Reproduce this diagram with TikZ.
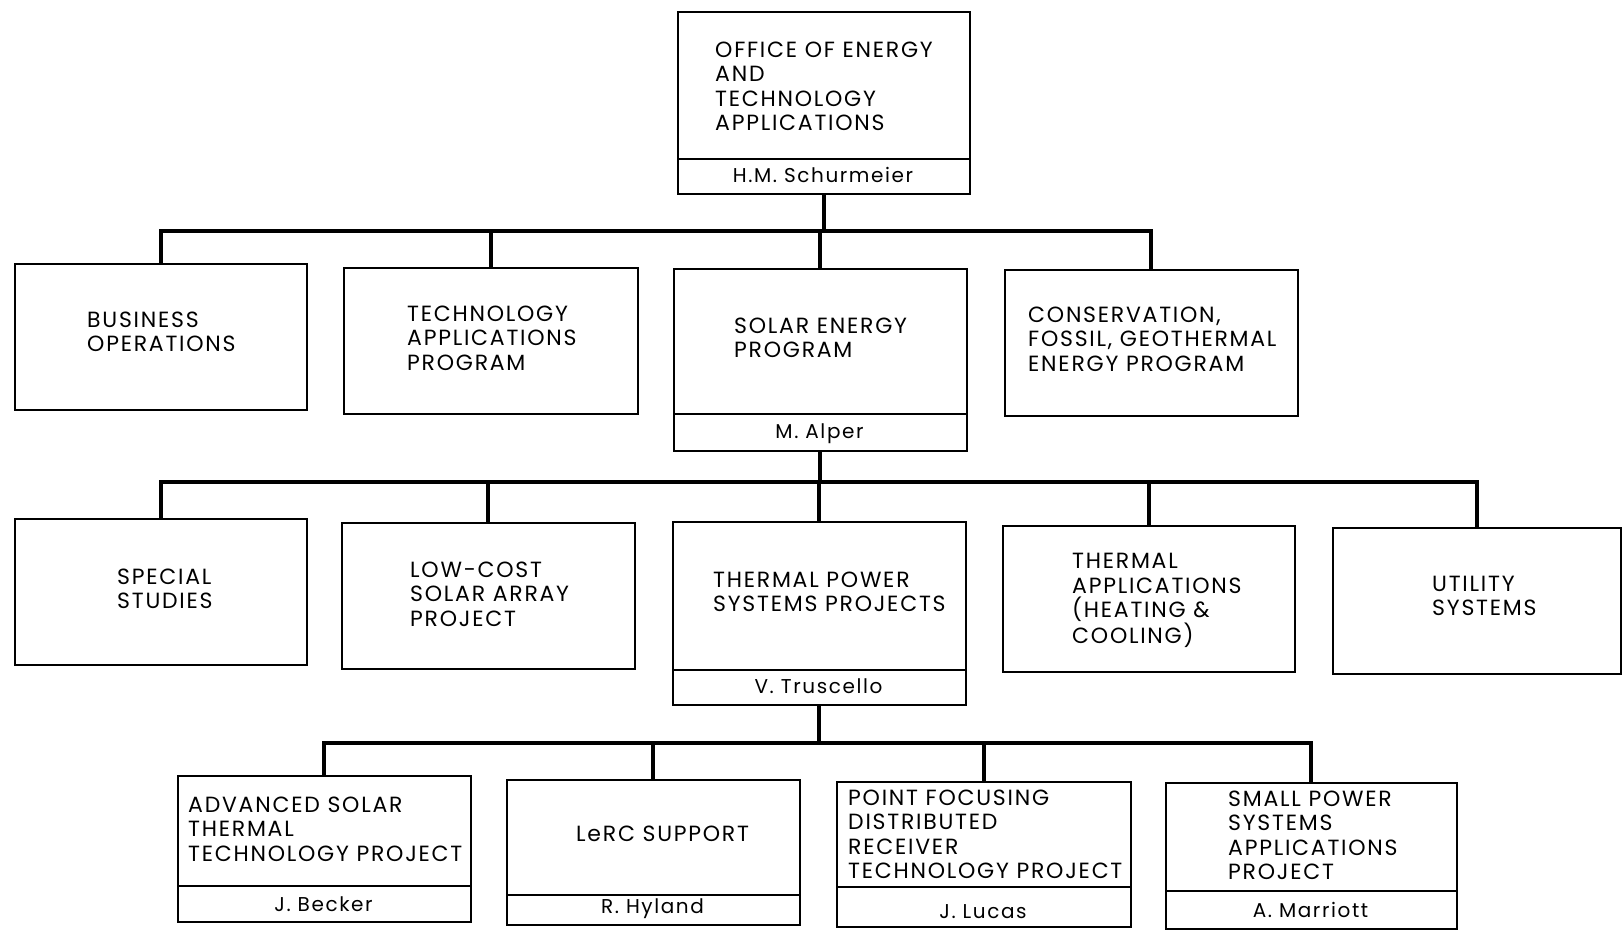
\documentclass[tikz,border=0pt]{standalone}
\usepackage{fontspec}
\setmainfont{Poppins}[LetterSpace=8]
\begin{document}
\begin{tikzpicture}[x=1pt,y=-1pt,
  box/.style={draw, line width=1.8pt, anchor=north west, inner sep=0pt},
  lbl/.style={anchor=base west, align=left, inner sep=0pt, font=\fontsize{22}{24.5}\selectfont},
  mgr/.style={anchor=base, inner sep=0pt, font=\fontsize{20}{22}\selectfont},
  conn/.style={line width=4pt}]
\useasboundingbox (0,0) rectangle (1622,932);
% ---------- level 0
\node[box, minimum width=292pt, minimum height=147pt] (office) at (677,11) {};
\node[box, minimum width=292pt, minimum height=35pt] (officem) at (677,158) {};
\node[lbl] (officet) at (715,130.5) {OFFICE OF ENERGY\\AND\\TECHNOLOGY\\APPLICATIONS};
\node[mgr] (officen) at (823,182) {H.M. Schurmeier};
% ---------- level 1
\node[box, minimum width=292pt, minimum height=146pt] (bus) at (14,263) {};
\node[lbl] (bust) at (87,351.5) {BUSINESS\\OPERATIONS};
\node[box, minimum width=294pt, minimum height=146pt] (tap) at (343,267) {};
\node[lbl] (tapt) at (407,370) {TECHNOLOGY\\APPLICATIONS\\PROGRAM};
\node[box, minimum width=293pt, minimum height=145pt] (sol) at (673,268) {};
\node[box, minimum width=293pt, minimum height=37pt] (solm) at (673,413) {};
\node[lbl] (solt) at (734,357.5) {SOLAR ENERGY\\PROGRAM};
\node[mgr] (soln) at (819.5,438) {M. Alper};
\node[box, minimum width=293pt, minimum height=146pt] (cons) at (1004,269) {};
\node[lbl] (const) at (1028,371) {CONSERVATION,\\FOSSIL, GEOTHERMAL\\ENERGY PROGRAM};
% ---------- level 2
\node[box, minimum width=292pt, minimum height=146pt] (spec) at (14,518) {};
\node[lbl] (spect) at (117,608.5) {SPECIAL\\STUDIES};
\node[box, minimum width=293pt, minimum height=146pt] (lcsa) at (341,522) {};
\node[lbl] (lcsat) at (410,626) {LOW-COST\\SOLAR ARRAY\\PROJECT};
\node[box, minimum width=293pt, minimum height=148pt] (tps) at (672,521) {};
\node[box, minimum width=293pt, minimum height=35pt] (tpsm) at (672,669) {};
\node[lbl] (tpst) at (713,611.5) {THERMAL POWER\\SYSTEMS PROJECTS};
\node[mgr] (tpsn) at (818.5,693) {V. Truscello};
\node[box, minimum width=292pt, minimum height=146pt] (tha) at (1002,525) {};
\node[lbl] (that) at (1072,643.5) {THERMAL\\APPLICATIONS\\(HEATING \&\\COOLING)};
\node[box, minimum width=288pt, minimum height=146pt] (util) at (1332,527) {};
\node[lbl] (utilt) at (1432,615.5) {UTILITY\\SYSTEMS};
% ---------- level 3
\node[box, minimum width=293pt, minimum height=110pt] (adv) at (177,775) {};
\node[box, minimum width=293pt, minimum height=36pt] (advm) at (177,885) {};
\node[lbl] (advt) at (188,861) {ADVANCED SOLAR\\THERMAL\\TECHNOLOGY PROJECT};
\node[mgr] (advn) at (323.5,911) {J. Becker};
\node[box, minimum width=293pt, minimum height=115pt] (lerc) at (506,779) {};
\node[box, minimum width=293pt, minimum height=30pt] (lercm) at (506,894) {};
\node[lbl] (lerct) at (576,841) {LeRC SUPPORT};
\node[mgr] (lercn) at (652.5,913) {R. Hyland};
\node[box, minimum width=294pt, minimum height=105pt] (pfd) at (836,781) {};
\node[box, minimum width=294pt, minimum height=40pt] (pfdm) at (836,886) {};
\node[lbl] (pfdt) at (848,878.5) {POINT FOCUSING\\DISTRIBUTED\\RECEIVER\\TECHNOLOGY PROJECT};
\node[mgr] (pfdn) at (983,918) {J. Lucas};
\node[box, minimum width=291pt, minimum height=108pt] (sps) at (1165,782) {};
\node[box, minimum width=291pt, minimum height=38pt] (spsm) at (1165,890) {};
\node[lbl] (spst) at (1228,879.5) {SMALL POWER\\SYSTEMS\\APPLICATIONS\\PROJECT};
\node[mgr] (spsn) at (1310.5,917) {A. Marriott};
% ---------- connectors
\coordinate (b1) at (820,231);
\coordinate (b2) at (819,482);
\coordinate (b3) at (818,743);
\draw[conn] (officem.south) -- (officem.south |- b1);
\draw[conn] (bus.north) -- (bus.north |- b1) -- (cons.north |- b1) -- (cons.north);
\draw[conn] (tap.north) -- (tap.north |- b1);
\draw[conn] (sol.north) -- (sol.north |- b1);
\draw[conn] (solm.south) -- (solm.south |- b2);
\draw[conn] (spec.north) -- (spec.north |- b2) -- (util.north |- b2) -- (util.north);
\draw[conn] (lcsa.north) -- (lcsa.north |- b2);
\draw[conn] (tps.north) -- (tps.north |- b2);
\draw[conn] (tha.north) -- (tha.north |- b2);
\draw[conn] (tpsm.south) -- (tpsm.south |- b3);
\draw[conn] (adv.north) -- (adv.north |- b3) -- (sps.north |- b3) -- (sps.north);
\draw[conn] (lerc.north) -- (lerc.north |- b3);
\draw[conn] (pfd.north) -- (pfd.north |- b3);
\end{tikzpicture}
\end{document}
